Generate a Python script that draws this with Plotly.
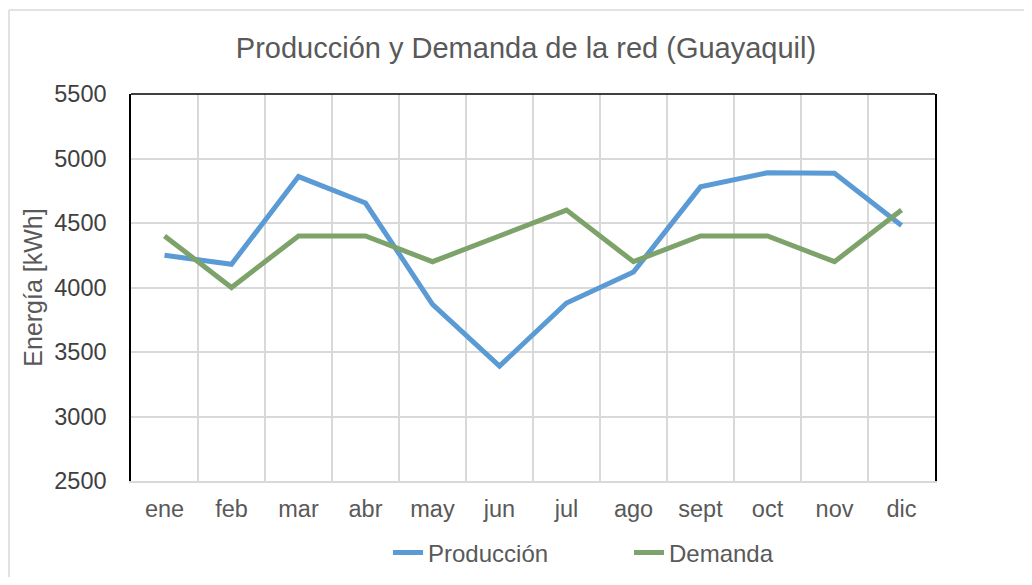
import plotly.graph_objects as go

months = ["ene", "feb", "mar", "abr", "may", "jun", "jul", "ago", "sept", "oct", "nov", "dic"]
produccion = [4250, 4180, 4860, 4655, 3870, 3390, 3880, 4120, 4780, 4890, 4885, 4480]
demanda = [4400, 4000, 4400, 4400, 4200, 4400, 4600, 4200, 4400, 4400, 4200, 4600]
y_ticks = [2500, 3000, 3500, 4000, 4500, 5000, 5500]

gray_text = "#595959"
font = "Liberation Sans, Arial, sans-serif"

fig = go.Figure()
fig.add_trace(go.Scatter(x=months, y=produccion, name="Producción", mode="lines",
                         line=dict(color="#5B9BD5", width=5)))
fig.add_trace(go.Scatter(x=months, y=demanda, name="Demanda", mode="lines",
                         line=dict(color="#7DA36B", width=5)))

OFF = 8  # page body margin
W, H = 1032 - 2 * OFF, 585 - 2 * OFF
L, T = 131 - OFF, 94 - OFF
R = W - (935 - OFF)
B = H - (481 - OFF)
pw = W - L - R
ph = H - T - B

fig.update_layout(
    width=W, height=H,
    margin=dict(l=L, r=R, t=T, b=B, autoexpand=False),
    paper_bgcolor="white", plot_bgcolor="white",
    font=dict(family=font, color=gray_text, size=23),
    title=dict(text="Producción y Demanda de la red (Guayaquil)",
               x=(526 - OFF) / W, xanchor="center", y=1 - (48 - OFF) / H, yanchor="middle",
               font=dict(size=29, color=gray_text)),
    showlegend=True,
    legend=dict(orientation="h", x=(629 - OFF - L) / pw, xanchor="center",
                y=-(553 - 481) / ph, yanchor="middle",
                font=dict(size=24, color=gray_text),
                entrywidth=196, entrywidthmode="pixels"),
    xaxis=dict(type="category", tickson="boundaries", showgrid=True,
               gridcolor="#D9D9D9", gridwidth=1.5, ticks="",
               showline=True, linecolor="#D9D9D9", linewidth=1.5,
               tickfont=dict(size=23.5, color=gray_text), ticklabelstandoff=6,
               range=[-0.5, 11.5]),
    yaxis=dict(range=[2500, 5500], tickvals=y_ticks, showgrid=True,
               gridcolor="#D9D9D9", gridwidth=1.5, zeroline=False,
               showline=True, linecolor="black", linewidth=1.5, mirror=True,
               ticks="", tickfont=dict(size=23.5, color="#404040"),
               ticklabelstandoff=18,
               title=dict(text="Energía [kWh]", font=dict(size=25, color=gray_text),
                          standoff=5)),
)

# black top border of the plot area
fig.add_shape(type="line", xref="x domain", yref="y domain", x0=0, x1=1, y0=1, y1=1,
              line=dict(color="black", width=1.5))
# outer chart frame (gray): only top and left edges are visible in the window
frame_x0 = (1 - L) / pw
frame_y1 = 1 + (T - (10 - OFF)) / ph
frame_y0 = -(H + 20 - T - ph) / ph
frame_x1 = (W + 20 - L) / pw
fig.add_shape(type="line", xref="paper", yref="paper",
              x0=frame_x0, x1=frame_x1, y0=frame_y1, y1=frame_y1,
              line=dict(color="#D9D9D9", width=1.5), layer="below")
fig.add_shape(type="line", xref="paper", yref="paper",
              x0=frame_x0, x1=frame_x0, y0=frame_y0, y1=frame_y1,
              line=dict(color="#D9D9D9", width=1.5), layer="below")

fig.write_html("out.html")
